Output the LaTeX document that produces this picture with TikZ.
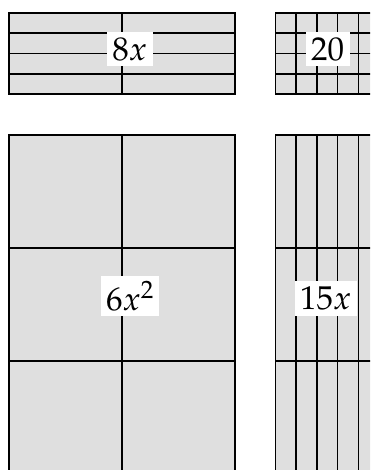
\documentclass[tikz,border=0pt]{standalone}
\usepackage{amsmath}
\usepackage{mathpazo}
\usepackage{xcolor}
\usepackage{tikz}

\definecolor{tilegray}{RGB}{223,223,223}
\tikzset{
  tile/.style = {fill = tilegray, draw = black, line width = 1.8pt},
  cut/.style = {line width = 1.6pt},
  term/.style = {fill = white, inner sep = 5.5pt, font = \fontsize{33}{36}\selectfont}
}

\begin{document}
\begin{tikzpicture}[x = 1pt, y = -1pt]
  \useasboundingbox (0, 0) rectangle (370, 470);
  \clip (0, 0) rectangle (370, 470);

  % 8x : two x-strips, four unit rows
  \draw[tile] (9, 13) coordinate (A1) rectangle (235, 94) coordinate (A2);
  \foreach \y in {33.25, 53.5, 73.75}
    \draw[cut] (9, \y) -- (235, \y);
  \draw[cut] (122, 13) -- (122, 94);

  % 20 : unit squares
  \draw[tile] (275.5, 13) coordinate (B1) rectangle (379, 94) coordinate (B2);
  \foreach \y in {33.25, 53.5, 73.75}
    \draw[cut] (275.5, \y) -- (379, \y);
  \foreach \x in {296.2, 316.9, 337.6, 358.3}
    \draw[cut] (\x, 13) -- (\x, 94);

  % 6x^2
  \draw[tile] (9, 135) coordinate (C1) rectangle (235, 475) coordinate (C2);
  \foreach \y in {248, 361}
    \draw[cut] (9, \y) -- (235, \y);
  \draw[cut] (122, 135) -- (122, 475);

  % 15x
  \draw[tile] (275.5, 135) coordinate (D1) rectangle (379, 475) coordinate (D2);
  \foreach \y in {248, 361}
    \draw[cut] (275.5, \y) -- (379, \y);
  \foreach \x in {296.2, 316.9, 337.6, 358.3}
    \draw[cut] (\x, 135) -- (\x, 475);

  \node[term] (eightx) at (129.7, 49) {\(8x\)};
  \node[term] (twenty) at (327.5, 49) {\(20\)};
  \node[term] (sixxsq) at (130, 296) {\(6x^2\)};
  \node[term] (fifteenx) at (325.8, 298.5) {\(15x\)};
\end{tikzpicture}
\end{document}
